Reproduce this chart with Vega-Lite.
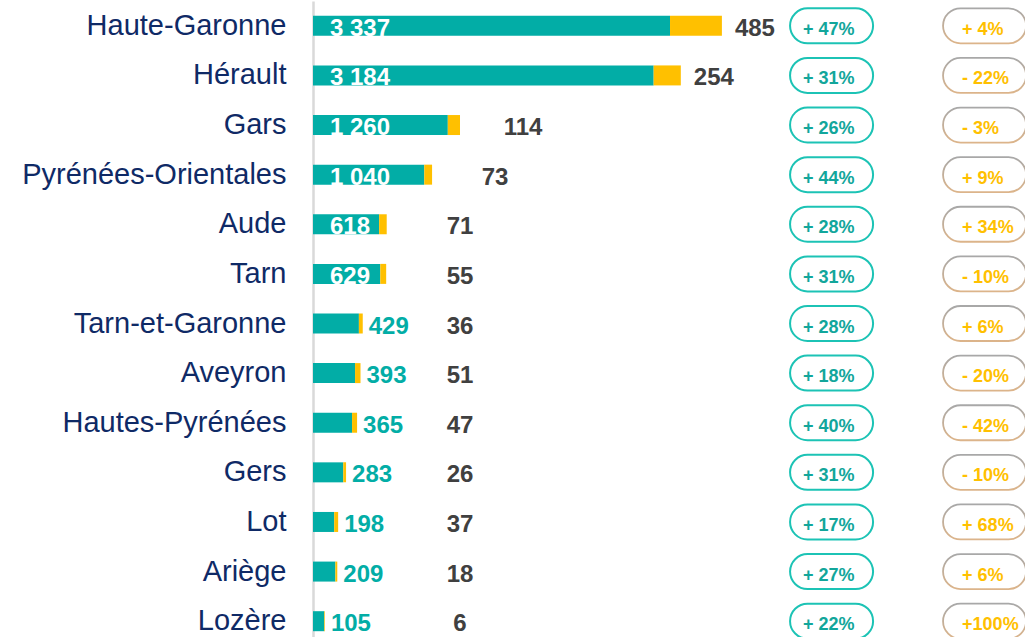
{
  "$schema": "https://vega.github.io/schema/vega-lite/v6.json",
  "autosize": "none",
  "width": 712,
  "height": 645,
  "padding": {"left": 313, "top": 1, "right": 0, "bottom": 0},
  "background": "white",
  "config": {
    "view": {"stroke": null},
    "font": "Liberation Sans",
    "locale": {"number": {"decimal": ",", "thousands": " ", "grouping": [3], "currency": ["", " €"]}}
  },
  "data": {
    "values": [
      {"dept": "Haute-Garonne", "teal": 3337, "yellow": 485, "g1": "+ 47%", "g2": "+ 4%"},
      {"dept": "Hérault", "teal": 3184, "yellow": 254, "g1": "+ 31%", "g2": "- 22%"},
      {"dept": "Gars", "teal": 1260, "yellow": 114, "g1": "+ 26%", "g2": "- 3%"},
      {"dept": "Pyrénées-Orientales", "teal": 1040, "yellow": 73, "g1": "+ 44%", "g2": "+ 9%"},
      {"dept": "Aude", "teal": 618, "yellow": 71, "g1": "+ 28%", "g2": "+ 34%"},
      {"dept": "Tarn", "teal": 629, "yellow": 55, "g1": "+ 31%", "g2": "- 10%"},
      {"dept": "Tarn-et-Garonne", "teal": 429, "yellow": 36, "g1": "+ 28%", "g2": "+ 6%"},
      {"dept": "Aveyron", "teal": 393, "yellow": 51, "g1": "+ 18%", "g2": "- 20%"},
      {"dept": "Hautes-Pyrénées", "teal": 365, "yellow": 47, "g1": "+ 40%", "g2": "- 42%"},
      {"dept": "Gers", "teal": 283, "yellow": 26, "g1": "+ 31%", "g2": "- 10%"},
      {"dept": "Lot", "teal": 198, "yellow": 37, "g1": "+ 17%", "g2": "+ 68%"},
      {"dept": "Ariège", "teal": 209, "yellow": 18, "g1": "+ 27%", "g2": "+ 6%"},
      {"dept": "Lozère", "teal": 105, "yellow": 6, "g1": "+ 22%", "g2": "+100%"}
    ]
  },
  "transform": [
    {"fold": ["teal", "yellow"], "as": ["key", "value"]},
    {"stack": "value", "groupby": ["dept"], "sort": [{"field": "key", "order": "ascending"}], "as": ["v0", "v1"]}
  ],
  "encoding": {
    "y": {
      "field": "dept",
      "type": "nominal",
      "sort": null,
      "scale": {"paddingInner": 0, "paddingOuter": 0},
      "axis": {
        "title": null,
        "ticks": false,
        "domainColor": "#d9d9d9",
        "domainWidth": 2.5,
        "labelPadding": 27,
        "labelFont": "Liberation Sans",
        "labelFontSize": 29,
        "labelColor": "#0f2a66",
        "labelLimit": 400
      }
    }
  },
  "layer": [
    {
      "mark": {"type": "bar", "size": 20},
      "encoding": {
        "x": {"field": "v0", "type": "quantitative", "scale": {"domain": [0, 6655], "nice": false, "zero": true}, "axis": null},
        "x2": {"field": "v1"},
        "color": {"field": "key", "type": "nominal", "scale": {"domain": ["teal", "yellow"], "range": ["#02ada6", "#ffc000"]}, "legend": null}
      }
    },
    {
      "transform": [{"filter": "datum.key === 'teal'"}],
      "mark": {"type": "bar", "size": 35, "cornerRadius": 17.5, "fill": "white", "stroke": "#1cc3b5", "strokeWidth": 2},
      "encoding": {
        "x": {"datum": 4459, "type": "quantitative"},
        "x2": {"datum": 5235}
      }
    },
    {
      "transform": [{"filter": "datum.key === 'teal'"}],
      "mark": {"type": "bar", "size": 35, "cornerRadius": 17.5, "fill": "white", "strokeWidth": 1.8,
        "stroke": {"gradient": "linear", "x1": 0, "y1": 0, "x2": 0, "y2": 1, "stops": [{"offset": 0, "color": "#a8a8a8"}, {"offset": 1, "color": "#dcb48a"}]}},
      "encoding": {
        "x": {"datum": 5889, "type": "quantitative"},
        "x2": {"datum": 6665}
      }
    },
    {
      "transform": [{"filter": "datum.key === 'teal'"}],
      "mark": {"type": "text", "align": "left", "baseline": "middle", "dy": 4, "fontSize": 18, "fontWeight": "bold", "color": "#12a69b"},
      "encoding": {
        "x": {"datum": 4580, "type": "quantitative"},
        "text": {"field": "g1"}
      }
    },
    {
      "transform": [{"filter": "datum.key === 'teal'"}],
      "mark": {"type": "text", "align": "left", "baseline": "middle", "dy": 4, "fontSize": 18, "fontWeight": "bold", "color": "#ffc000"},
      "encoding": {
        "x": {"datum": 6067, "type": "quantitative"},
        "text": {"field": "g2"}
      }
    },
    {
      "transform": [{"filter": "datum.key === 'teal' && datum.teal >= 500"}],
      "mark": {"type": "text", "align": "left", "baseline": "middle", "dx": 17, "dy": 3, "fontSize": 24, "fontWeight": "bold", "color": "white"},
      "encoding": {
        "x": {"datum": 0, "type": "quantitative"},
        "text": {"field": "teal", "type": "quantitative", "format": ",d"}
      }
    },
    {
      "transform": [{"filter": "datum.key === 'yellow' && datum.teal < 500"}],
      "mark": {"type": "text", "align": "left", "baseline": "middle", "dx": 6, "dy": 3, "fontSize": 24, "fontWeight": "bold", "color": "#02ada6"},
      "encoding": {
        "x": {"field": "v1", "type": "quantitative"},
        "text": {"field": "teal", "type": "quantitative", "format": ",d"}
      }
    },
    {
      "transform": [{"filter": "datum.key === 'yellow' && datum.v1 >= 3000"}],
      "mark": {"type": "text", "align": "center", "baseline": "middle", "dx": 33, "dy": 3, "fontSize": 24, "fontWeight": "bold", "color": "#404040"},
      "encoding": {
        "x": {"field": "v1", "type": "quantitative"},
        "text": {"field": "yellow", "type": "quantitative"}
      }
    },
    {
      "transform": [{"filter": "datum.key === 'yellow' && datum.v1 >= 1000 && datum.v1 < 3000"}],
      "mark": {"type": "text", "align": "center", "baseline": "middle", "dx": 63, "dy": 3, "fontSize": 24, "fontWeight": "bold", "color": "#404040"},
      "encoding": {
        "x": {"field": "v1", "type": "quantitative"},
        "text": {"field": "yellow", "type": "quantitative"}
      }
    },
    {
      "transform": [{"filter": "datum.key === 'yellow' && datum.v1 < 1000"}],
      "mark": {"type": "text", "align": "center", "baseline": "middle", "dy": 3, "fontSize": 24, "fontWeight": "bold", "color": "#404040"},
      "encoding": {
        "x": {"datum": 1374, "type": "quantitative"},
        "text": {"field": "yellow", "type": "quantitative"}
      }
    }
  ]
}
